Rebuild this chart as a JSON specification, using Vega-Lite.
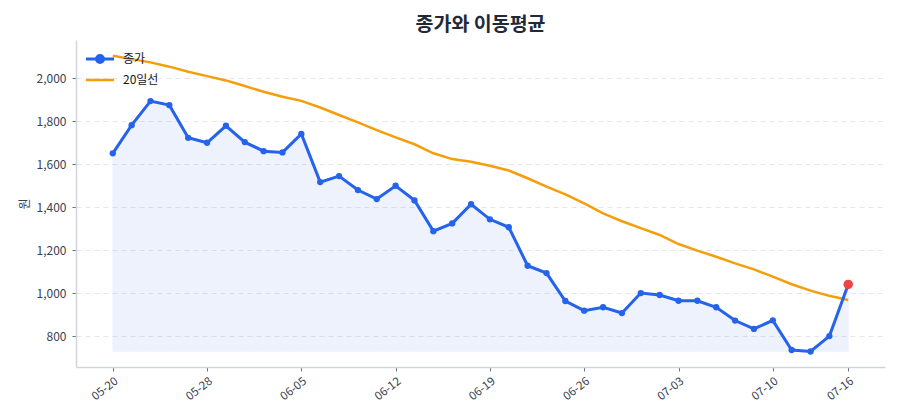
{
  "$schema": "https://vega.github.io/schema/vega-lite/v6.json",
  "autosize": {"type": "none"},
  "width": 809,
  "height": 327,
  "padding": {"left": 76, "top": 40, "right": 15, "bottom": 53},
  "background": "white",
  "config": {
    "font": "Noto Sans CJK KR",
    "view": {"stroke": null},
    "axis": {"labelFont": "Noto Sans CJK KR", "titleFont": "Noto Sans CJK KR"},
    "legend": {"labelFont": "Noto Sans CJK KR"}
  },
  "title": {
    "text": "종가와 이동평균",
    "fontSize": 19.5,
    "fontWeight": "bold",
    "color": "#1f2937",
    "anchor": "middle",
    "offset": 5
  },
  "data": {
    "values": [
      {"n": 0, "date": "05-20", "close": 1650, "ma20": 2104},
      {"n": 1, "date": "05-21", "close": 1781, "ma20": 2088},
      {"n": 2, "date": "05-22", "close": 1893, "ma20": 2073},
      {"n": 3, "date": "05-23", "close": 1874, "ma20": 2053},
      {"n": 4, "date": "05-24", "close": 1722, "ma20": 2029},
      {"n": 5, "date": "05-28", "close": 1699, "ma20": 2009},
      {"n": 6, "date": "05-29", "close": 1778, "ma20": 1989},
      {"n": 7, "date": "05-30", "close": 1702, "ma20": 1963},
      {"n": 8, "date": "05-31", "close": 1660, "ma20": 1936},
      {"n": 9, "date": "06-03", "close": 1654, "ma20": 1913},
      {"n": 10, "date": "06-05", "close": 1740, "ma20": 1894},
      {"n": 11, "date": "06-06", "close": 1516, "ma20": 1863},
      {"n": 12, "date": "06-07", "close": 1544, "ma20": 1828},
      {"n": 13, "date": "06-10", "close": 1479, "ma20": 1794},
      {"n": 14, "date": "06-11", "close": 1437, "ma20": 1758},
      {"n": 15, "date": "06-12", "close": 1499, "ma20": 1724},
      {"n": 16, "date": "06-13", "close": 1431, "ma20": 1692},
      {"n": 17, "date": "06-14", "close": 1288, "ma20": 1650},
      {"n": 18, "date": "06-17", "close": 1324, "ma20": 1623},
      {"n": 19, "date": "06-18", "close": 1413, "ma20": 1611},
      {"n": 20, "date": "06-19", "close": 1343, "ma20": 1592},
      {"n": 21, "date": "06-20", "close": 1306, "ma20": 1570},
      {"n": 22, "date": "06-21", "close": 1127, "ma20": 1534},
      {"n": 23, "date": "06-24", "close": 1093, "ma20": 1495},
      {"n": 24, "date": "06-25", "close": 963, "ma20": 1459},
      {"n": 25, "date": "06-26", "close": 918, "ma20": 1417},
      {"n": 26, "date": "06-27", "close": 934, "ma20": 1371},
      {"n": 27, "date": "06-28", "close": 907, "ma20": 1334},
      {"n": 28, "date": "07-01", "close": 1000, "ma20": 1302},
      {"n": 29, "date": "07-02", "close": 991, "ma20": 1270},
      {"n": 30, "date": "07-03", "close": 964, "ma20": 1228},
      {"n": 31, "date": "07-04", "close": 964, "ma20": 1197},
      {"n": 32, "date": "07-05", "close": 934, "ma20": 1169},
      {"n": 33, "date": "07-08", "close": 872, "ma20": 1138},
      {"n": 34, "date": "07-09", "close": 833, "ma20": 1110},
      {"n": 35, "date": "07-10", "close": 873, "ma20": 1076},
      {"n": 36, "date": "07-11", "close": 735, "ma20": 1041},
      {"n": 37, "date": "07-12", "close": 728, "ma20": 1011},
      {"n": 38, "date": "07-15", "close": 800, "ma20": 987},
      {"n": 39, "date": "07-16", "close": 1040, "ma20": 968}
    ]
  },
  "encoding": {
    "x": {
      "field": "n",
      "type": "quantitative",
      "scale": {"domain": [-1.95, 40.95], "nice": false, "zero": false},
      "axis": {
        "title": null,
        "values": [0, 5, 10, 15, 20, 25, 30, 35, 39],
        "labelExpr": "{'0':'05-20','5':'05-28','10':'06-05','15':'06-12','20':'06-19','25':'06-26','30':'07-03','35':'07-10','39':'07-16'}[datum.value + '']",
        "labelAngle": -38,
        "labelFontSize": 11.5,
        "labelColor": "#374151",
        "labelDx": -3,
        "domainColor": "#d1d5db",
        "domainWidth": 1.5,
        "tickColor": "#6b7280",
        "tickSize": 4,
        "labelPadding": 4,
        "labelFlush": false,
        "labelOverlap": false,
        "grid": false
      }
    }
  },
  "layer": [
    {
      "transform": [{"joinaggregate": [{"op": "min", "field": "close", "as": "low"}]}],
      "mark": {"type": "area", "color": "#2563eb", "opacity": 0.08, "stroke": "#2563eb", "strokeWidth": 1, "strokeOpacity": 0.6},
      "encoding": {
        "y": {
          "field": "close",
          "type": "quantitative",
          "scale": {"domain": [656, 2177], "nice": false, "zero": false},
          "axis": {
            "title": "원",
            "titleFontSize": 12,
            "titleFontWeight": "normal",
            "titleColor": "#374151",
            "titlePadding": 5,
            "values": [800, 1000, 1200, 1400, 1600, 1800, 2000],
            "format": ",.0f",
            "labelFontSize": 12,
            "labelColor": "#374151",
            "ticks": true,
            "tickSize": 4,
            "tickColor": "#6b7280",
            "labelPadding": 6,
            "domainColor": "#d1d5db",
            "domainWidth": 1.5,
            "gridColor": "#e5e7eb",
            "gridDash": [5, 4],
            "gridWidth": 1
          }
        },
        "y2": {"field": "low"}
      }
    },
    {
      "mark": {"type": "line", "strokeWidth": 2.5},
      "encoding": {
        "y": {"field": "ma20", "type": "quantitative"},
        "color": {"datum": "20일선"}
      }
    },
    {
      "mark": {"type": "line", "strokeWidth": 3, "point": {"filled": true, "size": 40, "color": "#2563eb"}},
      "encoding": {
        "y": {"field": "close", "type": "quantitative"},
        "color": {
          "datum": "종가",
          "scale": {"domain": ["종가", "20일선"], "range": ["#2563eb", "#f59e0b"]},
          "legend": {
            "title": null,
            "orient": "none",
            "legendX": 11,
            "legendY": 13,
            "labelFontSize": 12,
            "labelColor": "#111827",
            "symbolSize": 196,
            "rowPadding": 5,
            "labelOffset": 24,
            "encode": {
              "symbols": {
                "update": {
                  "shape": {"signal": "datum.value === '종가' ? 'M-1,0L3,0M0.5,0a0.5,0.5 0 1,0 1,0a0.5,0.5 0 1,0 -1,0' : 'M-1,0L3,0'"},
                  "fill": {"signal": "datum.value === '종가' ? '#2563eb' : 'transparent'"},
                  "strokeWidth": {"signal": "datum.value === '종가' ? 3 : 2.5"}
                }
              }
            }
          }
        }
      }
    },
    {
      "transform": [{"filter": "datum.n === 39"}],
      "mark": {"type": "circle", "color": "#ef4444", "opacity": 1, "size": 90},
      "encoding": {
        "y": {"field": "close", "type": "quantitative"}
      }
    }
  ]
}
